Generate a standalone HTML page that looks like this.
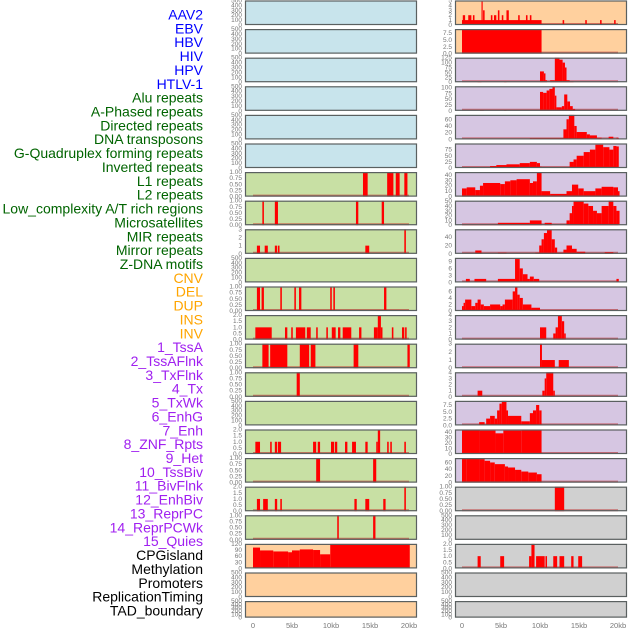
<!DOCTYPE html>
<html><head><meta charset="utf-8"><style>
html,body{margin:0;padding:0;background:#fff;}
svg{display:block;font-family:"Liberation Sans",sans-serif;}
</style></head><body>
<svg id="chart" width="630" height="630" viewBox="0 0 630 630" xmlns="http://www.w3.org/2000/svg"></svg>
<script>
const labels=["AAV2","EBV","HBV","HIV","HPV","HTLV-1","Alu repeats","A-Phased repeats","Directed repeats","DNA transposons","G-Quadruplex forming repeats","Inverted repeats","L1 repeats","L2 repeats","Low_complexity A/T rich regions","Microsatellites","MIR repeats","Mirror repeats","Z-DNA motifs","CNV","DEL","DUP","INS","INV","1_TssA","2_TssAFlnk","3_TxFlnk","4_Tx","5_TxWk","6_EnhG","7_Enh","8_ZNF_Rpts","9_Het","10_TssBiv","11_BivFlnk","12_EnhBiv","13_ReprPC","14_ReprPCWk","15_Quies","CPGisland","Methylation","Promoters","ReplicationTiming","TAD_boundary"];
const labelColors=["#0000ff","#0000ff","#0000ff","#0000ff","#0000ff","#0000ff","#006400","#006400","#006400","#006400","#006400","#006400","#006400","#006400","#006400","#006400","#006400","#006400","#006400","#ffa500","#ffa500","#ffa500","#ffa500","#ffa500","#a020f0","#a020f0","#a020f0","#a020f0","#a020f0","#a020f0","#a020f0","#a020f0","#a020f0","#a020f0","#a020f0","#a020f0","#a020f0","#a020f0","#a020f0","#000","#000","#000","#000","#000"];
const xTicks=[0,5,10,15,20];
const xTickLabels=["0","5kb","10kb","15kb","20kb"];
const E=["0","100","200","300","400","500"],U=["0.00","0.25","0.50","0.75","1.00"],T2=["0.0","0.5","1.0","1.5","2.0"];
const leftBg=["b","b","b","b","b","b","g","g","g","g","g","g","g","g","g","g","g","g","g","o","o","o"];
const leftTicks=[E,E,E,E,E,E,U,U,["0","1","2","3"],E,U,T2,U,U,E,T2,U,T2,U,["0","30","60","90","120"],E,E];
const leftMax=[500,500,500,500,500,500,1,1,3,500,1,2,1,1,500,2,1,2,1,120,500,500];
const leftBars=[[],[],[],[],[],[],
[[14.1,14.7,1],[17.2,18.0,1],[18.3,18.8,1],[19.4,19.8,1]],
[[1.2,1.4,1],[2.8,3.2,1],[13.2,13.5,1],[16.5,16.8,1]],
[[0.5,0.9,1],[1.5,1.9,1],[2.8,3.1,1],[3.2,3.4,1],[14.4,14.9,1],[19.4,19.6,3]],
[],
[[0.5,0.9,1],[1.1,1.4,1],[3.5,3.7,1],[5.3,5.5,1],[5.9,6.2,1],[9.9,10.1,1],[10.3,10.5,1],[16.8,17.1,1]],
[[0.3,2.4,1],[4.1,4.4,1],[4.9,5.1,1],[5.5,6.7,1],[6.9,7.4,1],[8.1,8.3,1],[9.4,9.6,1],[10.1,10.6,1],[10.9,11.2,1],[11.5,12.6,1],[13.6,13.9,1],[15.5,16.0,1],[16.0,16.4,2],[16.4,16.6,1],[17.8,18.0,1],[19.1,19.4,1],[19.5,19.7,1]],
[[1.2,2.0,1],[2.2,4.4,1],[6.0,7.2,1],[7.4,8.0,1],[12.9,13.5,1],[19.8,20.1,1]],
[[5.6,6.0,1]],
[],
[[0.3,0.9,1],[2.2,2.4,1],[2.8,3.1,1],[3.2,3.6,1],[7.7,8.1,1],[8.3,8.6,1],[10.0,10.4,1],[10.5,10.8,1],[11.8,12.1,1],[12.7,13.2,1],[14.4,14.7,1],[15.8,16.0,1],[16.0,16.3,2],[17.2,17.4,1],[17.6,17.8,1],[19.4,19.6,1]],
[[8.1,8.6,1],[15.4,15.8,1]],
[[0.5,0.9,1],[1.3,1.9,1],[2.8,3.1,1],[3.5,3.7,1],[13.0,13.3,1],[14.4,14.9,1],[16.7,17.0,1],[19.4,19.6,2]],
[[10.8,11.0,1],[15.4,15.7,1]],
[[0,0.9,102],[0.9,2.6,88],[2.6,4.5,83],[4.5,5.0,79],[5.0,6.0,88],[6.0,7.7,93],[7.7,8.6,90],[8.6,9.9,69],[9.9,20.1,120]],
[],[]];
const rightBg=["o","o","p","p","p","p","p","p","p","p","p","p","p","p","p","p","p","y","y","y","y","y"];
const rightTicks=[["0","1","2","3","4","5"],["0.0","2.5","5.0","7.5"],["0","25","50","75","100","125"],["0","25","50","75","100"],["0","20","40","60"],["0","25","50","75"],["0","10","20","30","40"],["0","10","20","30","40","50"],["0","20","40"],["0","3","6","9"],["0","2","4","6"],["0","1","2","3","4"],["0","1","2","3"],["0","1","2","3","4"],["0.0","2.5","5.0","7.5"],["0","10","20","30","40"],["0","20","40","60"],U,E,T2,E,E];
const rightMax=[5,9,125,105,73,100,45,51,59,10.5,7.5,4,3,4,9,45,73,1,500,2,500,500];
const rightBars=[
[[0,10.2,1],[0.1,0.4,2],[0.8,1.2,2],[1.4,1.6,2],[2.5,2.65,5],[2.7,2.9,3],[3.7,3.9,2],[4.1,4.4,2],[4.6,4.8,3],[5.1,5.3,2],[5.7,6.0,3],[7.2,7.4,2],[8.2,8.4,2],[8.7,8.9,2],[12.9,13.1,1],[15.8,16.0,1],[17.7,17.9,1],[19.5,19.7,1]],
[[0,10.2,9]],
[[2.0,2.5,3],[5.4,5.7,3],[10.0,10.5,55],[10.5,10.7,45],[10.7,10.9,10],[11.3,11.9,10],[11.9,12.5,125],[12.5,12.9,115],[12.9,13.2,100],[13.2,13.4,75],[13.4,13.8,10],[13.8,14.3,5]],
[[2.3,2.8,3],[5.4,5.7,3],[10.0,10.4,81],[10.4,10.85,77],[10.85,11.2,87],[11.2,11.6,94],[11.6,11.9,104],[11.9,12.1,65],[12.1,12.8,15],[12.8,13.1,20],[13.1,13.5,70],[13.5,13.85,40],[13.85,14.2,20],[14.2,14.5,8]],
[[8.7,9.0,4],[9.0,13.0,4],[13.0,13.4,30],[13.4,13.7,60],[13.7,14.4,73],[14.4,14.7,40],[14.7,16.0,22],[16.0,16.4,15],[16.4,17.3,12],[17.3,17.9,5],[18.8,19.4,8],[19.8,20.1,5]],
[[3.6,4.4,8],[4.4,5.7,12],[5.7,7.4,15],[7.4,8.7,20],[8.7,9.6,25],[9.6,10.0,20],[10.0,10.2,5],[13.8,14.3,25],[14.3,14.7,35],[14.7,15.6,50],[15.6,16.4,65],[16.4,17.1,75],[17.1,18.1,95],[18.1,18.9,85],[18.9,19.4,75],[19.4,19.8,90],[19.8,20.1,88]],
[[0,0.6,15],[0.6,1.7,17],[1.7,2.3,12],[2.3,2.7,20],[2.7,4.9,25],[4.9,5.5,23],[5.5,6.2,28],[6.2,7.0,30],[7.0,8.7,32],[8.7,9.1,25],[9.1,9.6,28],[9.6,10.2,45],[10.2,11.3,10],[11.3,13.4,5],[13.4,14.1,10],[14.1,14.9,22],[14.9,15.6,15],[15.6,17.1,10],[17.1,17.9,15],[17.9,19.4,18],[19.4,20.0,17],[20.0,20.2,10]],
[[0,4.6,2],[4.6,8.7,5],[8.7,10.2,10],[10.6,11.5,5],[13.4,13.8,10],[13.8,14.1,25],[14.1,14.3,40],[14.3,15.6,50],[15.6,16.2,45],[16.2,16.8,40],[16.8,17.3,30],[17.3,17.9,25],[17.9,18.8,40],[18.8,19.4,52],[19.4,19.8,40],[19.8,20.2,30]],
[[1.7,2.5,8],[4.6,5.7,3],[9.4,9.9,3],[9.9,10.2,20],[10.2,10.5,35],[10.5,10.9,50],[10.9,11.5,58],[11.5,11.9,35],[11.9,12.2,15],[12.2,13.0,3],[13.0,13.4,10],[13.4,14.1,20],[14.1,14.7,12],[14.7,15.8,5],[18.3,19.4,4]],
[[0.5,1.0,1.5],[1.6,3.1,1.5],[4.6,6.8,1.5],[6.8,7.4,10],[7.4,7.8,6],[7.8,8.4,3.5],[8.4,8.7,1.5],[8.7,9.2,2.5],[9.2,9.9,1.5],[19.8,20.1,1.5]],
[[0,0.2,1.5],[0.2,0.4,2.5],[0.4,1.2,3.5],[1.2,1.7,1.5],[1.7,2.0,2.5],[2.0,2.4,3.5],[2.4,2.8,2],[2.8,3.6,1.5],[3.6,4.9,2],[4.9,5.2,1.5],[5.2,5.5,2],[5.5,6.5,3.5],[6.5,6.8,6],[6.8,7.1,7.5],[7.1,7.4,5],[7.4,7.8,4],[7.8,8.9,2],[8.9,10.0,1]],
[[10.0,10.8,2],[11.7,12.0,1],[12.0,12.3,2],[12.3,12.8,4],[12.8,13.1,3],[13.1,13.3,1]],
[[10.0,10.25,3],[10.25,11.9,1],[12.4,13.7,1]],
[[2.0,2.6,1],[10.3,10.6,1],[10.6,10.8,3],[10.8,11.7,4],[11.7,11.9,1]],
[[2.2,2.9,1.2],[3.1,3.6,2.5],[3.6,4.2,3.5],[4.2,4.5,2.5],[4.5,4.8,5.5],[4.8,5.1,8],[5.1,5.7,9],[5.7,5.9,5.5],[5.9,7.6,3.5],[7.6,8.7,1.5],[8.7,9.1,4.5],[9.1,9.5,5.5],[9.5,9.9,7.5],[9.9,10.2,5.5]],
[[0,2.3,45],[2.3,4.3,43],[4.3,5.3,38],[5.3,7.6,43],[7.6,10.2,44]],
[[0,0.6,73],[0.6,2.3,72],[2.3,2.9,70],[2.9,3.6,65],[3.6,4.2,60],[4.2,5.5,55],[5.5,5.9,48],[5.9,6.8,45],[6.8,7.6,38],[7.6,8.5,33],[8.5,9.6,30],[9.6,10.2,25]],
[[11.9,13.1,1]],
[],
[[2.0,2.4,1],[4.9,5.4,1],[8.6,8.9,1],[8.9,9.3,2],[9.5,10.6,1],[10.7,10.9,1],[11.7,12.2,1],[12.5,13.1,1],[14.0,14.3,1],[14.9,15.4,1]],
[],[]];
const bgColors={b:"#c8e4ec",g:"#c8e0a4",o:"#ffd09e",p:"#d6c6e2",y:"#d0d0d0"};

const NS="http://www.w3.org/2000/svg";
const svg=document.getElementById("chart");
function mk(tag,attrs,parent){const e=document.createElementNS(NS,tag);for(const k in attrs)e.setAttribute(k,attrs[k]);(parent||svg).appendChild(e);return e;}

// labels
labels.forEach((t,k)=>{
  const e=mk("text",{x:203,y:19.5+k*13.86,"text-anchor":"end","font-size":"14",fill:labelColors[k]});
  e.textContent=t;
  
  
});

function rowTop(i){return i*28.6+0.5;}
function rowH(i){return i===21?16.5:24.5;}

function drawPanel(side,i,px0,px1,originX,bg,ticks,maxV,bars){
  const g=mk("g",{});
  
  
  const top=rowTop(i),h=rowH(i),bottom=top+h;
  const yS=v=>bottom-Math.min(v,maxV)/maxV*h;
  const xS=kb=>originX+kb*7.8;
  const r=mk("rect",{x:px0,y:top,width:px1-px0,height:h,fill:bgColors[bg],stroke:"none"},g);
  
  
  if(bars.length){
    const bl=mk("line",{x1:xS(0),x2:xS(20),y1:bottom-1,y2:bottom-1,stroke:"rgba(190,30,30,0.55)","stroke-width":"2"},g);
    
    
  }
  bars.forEach(b=>{
    const y=yS(b[2]);
    const e=mk("rect",{x:xS(b[0]),y:y,width:Math.max(0.8,xS(b[1])-xS(b[0])),height:bottom-y,fill:"#ff0000"},g);
    
    
  });
  mk("rect",{x:px0+0.5,y:top+0.5,width:px1-px0-1,height:h-1,fill:"none",stroke:"#5a6060","stroke-width":"1.2"},g);
  ticks.forEach(t=>{
    const v=parseFloat(t);
    const e=mk("text",{x:px0-3,y:yS(v)+2,"text-anchor":"end","font-size":"6.5",fill:"#777"},g);
    e.textContent=t;
    
    
  });
}
for(let i=0;i<22;i++){
  drawPanel("left",i,245,417,253,leftBg[i],leftTicks[i],leftMax[i],leftBars[i]);
  drawPanel("right",i,455,627,462,rightBg[i],rightTicks[i],rightMax[i],rightBars[i]);
}
// x axes
[253,462].forEach((ox,s)=>{
  xTicks.forEach((kb,j)=>{
    const e=mk("text",{x:ox+kb*7.8,y:628,"text-anchor":"middle","font-size":"7.5",fill:"#777"});
    e.textContent=xTickLabels[j];
    
    
  });
});
</script>
</body></html>
